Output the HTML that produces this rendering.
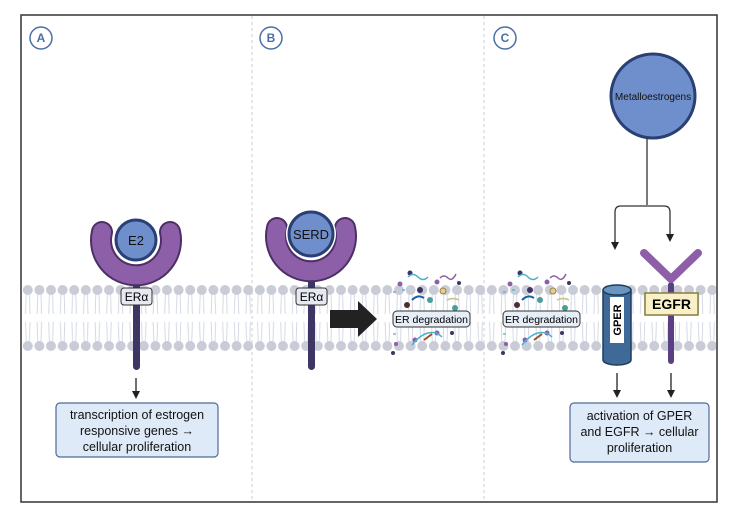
<!DOCTYPE html>
<html><head><meta charset="utf-8"><style>
html,body{margin:0;padding:0;background:#fff;}
svg{display:block;font-family:"Liberation Sans",sans-serif;}
</style></head><body>
<svg width="737" height="511" viewBox="0 0 737 511" xmlns="http://www.w3.org/2000/svg">
<defs>
<pattern id="mem" x="22" y="284" width="11.6" height="68" patternUnits="userSpaceOnUse">
<g stroke="#cfd5e2" stroke-width="0.9" fill="none">
<path d="M4.3 8 L3.5 30 M7.3 8 L8 30"/>
<path d="M3.5 38 L4.3 60 M8 38 L7.3 60"/>
</g>
<circle cx="5.8" cy="6" r="5" fill="#c9ccd6"/>
<circle cx="5.8" cy="62" r="5" fill="#c9ccd6"/>
</pattern>
<marker id="ah" markerWidth="8" markerHeight="8" refX="4" refY="4" orient="auto" markerUnits="userSpaceOnUse"><path d="M0 0 L8 4 L0 8 Z" fill="#222"/></marker>
</defs>
<rect x="21" y="15" width="696" height="487" fill="#fff" stroke="#333" stroke-width="1.5"/>
<rect x="22" y="284" width="694" height="68" fill="url(#mem)"/>
<line x1="252" y1="16" x2="252" y2="501" stroke="#ccc" stroke-dasharray="3,3"/>
<line x1="484" y1="16" x2="484" y2="501" stroke="#ccc" stroke-dasharray="3,3"/>
<g fill="#fff" stroke="#4a6ea8" stroke-width="1.5">
<circle cx="41" cy="38" r="11"/><circle cx="271" cy="38" r="11"/><circle cx="505" cy="38" r="11"/>
</g>
<g fill="#4a6ea8" font-size="12" font-weight="bold" text-anchor="middle">
<text x="41" y="42">A</text><text x="271" y="42">B</text><text x="505" y="42">C</text>
</g>
<!-- A receptor -->
<rect x="133" y="270" width="7" height="100" rx="3.5" fill="#3d3563"/>
<path d="M102 232 A35 35 0 1 0 170 232" stroke="#4d2f66" stroke-width="22" fill="none" stroke-linecap="round"/>
<path d="M102 232 A35 35 0 1 0 170 232" stroke="#8c5fa8" stroke-width="18" fill="none" stroke-linecap="round"/>
<circle cx="136" cy="240" r="23" fill="#fff"/>
<circle cx="136" cy="240" r="20" fill="#6f8fcc" stroke="#2a3f73" stroke-width="3"/>
<text x="136" y="245" font-size="13" text-anchor="middle" fill="#111">E2</text>
<rect x="121" y="288" width="31" height="17" rx="3" fill="#e6e8f2" stroke="#333"/>
<text x="136.5" y="301" font-size="12" text-anchor="middle">ERα</text>
<line x1="136" y1="378" x2="136" y2="395" stroke="#222" stroke-width="1.3" marker-end="url(#ah)"/>
<rect x="56" y="403" width="162" height="54" rx="4" fill="#deeaf8" stroke="#4f6a96" stroke-width="1.2"/>
<g font-size="12.5" text-anchor="middle" fill="#111">
<text x="137" y="419">transcription of estrogen</text>
<text x="137" y="435">responsive genes →</text>
<text x="137" y="451">cellular proliferation</text>
</g>
<!-- B receptor -->
<rect x="308" y="270" width="7" height="100" rx="3.5" fill="#3d3563"/>
<path d="M277 228 A35 35 0 1 0 345 228" stroke="#4d2f66" stroke-width="22" fill="none" stroke-linecap="round"/>
<path d="M277 228 A35 35 0 1 0 345 228" stroke="#8c5fa8" stroke-width="18" fill="none" stroke-linecap="round"/>
<circle cx="311" cy="234" r="25" fill="#fff"/>
<circle cx="311" cy="234" r="22" fill="#6f8fcc" stroke="#2a3f73" stroke-width="3"/>
<text x="311" y="239" font-size="13" text-anchor="middle" fill="#111">SERD</text>
<rect x="296" y="288" width="31" height="17" rx="3" fill="#e6e8f2" stroke="#333"/>
<text x="311.5" y="301" font-size="12" text-anchor="middle">ERα</text>
<path d="M330 310 L358 310 L358 301 L377 319 L358 337 L358 328 L330 328 Z" fill="#222"/>
<!-- degradation debris -->
<g>
<g id="deb">
<circle cx="410" cy="273" r="2.5" fill="#3d3563"/><circle cx="400" cy="284" r="2.5" fill="#8c5fa8"/>
<circle cx="420" cy="290" r="3" fill="#3d3563"/><circle cx="430" cy="300" r="3" fill="#4a9d9a"/>
<circle cx="443" cy="291" r="3" fill="#e0d090" stroke="#a08040"/><circle cx="437" cy="282" r="2.5" fill="#8c5fa8"/>
<circle cx="459" cy="283" r="2" fill="#3d3563"/><circle cx="455" cy="308" r="3" fill="#4a9d9a"/>
<circle cx="407" cy="305" r="3" fill="#4a2f2f"/><circle cx="415" cy="340" r="2.5" fill="#8c5fa8"/>
<circle cx="437" cy="333" r="2.5" fill="#8c5fa8"/><circle cx="452" cy="333" r="2" fill="#3d3563"/>
<circle cx="393" cy="353" r="2" fill="#3d3563"/><circle cx="396" cy="344" r="2" fill="#8c5fa8"/>
<path d="M408 277 q5 -5 10 0 t10 0" stroke="#4ab0d0" fill="none" stroke-width="1.5"/>
<path d="M440 278 q4 -4 8 0 t8 -4" stroke="#8c5fa8" fill="none" stroke-width="1.5"/>
<path d="M412 300 q6 -6 12 -2" stroke="#1a5fa0" fill="none" stroke-width="2"/>
<path d="M412 345 q8 -10 16 -12 t14 4" stroke="#4ab0d0" fill="none" stroke-width="1.5"/>
<path d="M424 340 l8 -6" stroke="#a05020" stroke-width="2"/>
<path d="M447 300 q6 -3 12 0" stroke="#c8c080" fill="none" stroke-width="1.5"/>
<path d="M393 292 l3 0 M393 315 l3 0 M393 334 l3 0 M402 290 l3 0" stroke="#4ab0d0" stroke-width="1.2"/>
</g>
<use href="#deb" x="110"/>
</g>
<rect x="393" y="311" width="77" height="16" rx="4" fill="#e6eef8" stroke="#333"/>
<text x="431.5" y="323" font-size="10.5" text-anchor="middle">ER degradation</text>
<rect x="503" y="311" width="77" height="16" rx="4" fill="#e6eef8" stroke="#333"/>
<text x="541.5" y="323" font-size="10.5" text-anchor="middle">ER degradation</text>
<!-- C -->
<circle cx="653" cy="96" r="42" fill="#6f8fcc" stroke="#2a3f73" stroke-width="3"/>
<text x="653" y="100" font-size="10" text-anchor="middle" fill="#111">Metalloestrogens</text>
<path d="M647 138 V205" stroke="#333" stroke-width="1.3" fill="none"/>
<path d="M615 245 V212 q0 -6 6 -6 H664 q6 0 6 6 V238" stroke="#333" stroke-width="1.3" fill="none" marker-end="url(#ah)"/>
<line x1="615" y1="240" x2="615" y2="246" stroke="#333" stroke-width="1.3" marker-end="url(#ah)"/>
<path d="M603 290 V360 a14 5 0 0 0 28 0 V290" fill="#3f6a98" stroke="#1e3a5c" stroke-width="1.5"/>
<ellipse cx="617" cy="290" rx="14" ry="5" fill="#6a95c0" stroke="#1e3a5c" stroke-width="1.5"/>
<rect x="610" y="297" width="14" height="46" fill="#fff"/>
<text x="617" y="320" font-size="11" font-weight="bold" text-anchor="middle" transform="rotate(-90 617 320)" dy="4">GPER</text>
<rect x="668" y="282" width="6" height="82" rx="3" fill="#5a3f85"/>
<path d="M644 253 L671 279 L698 253" stroke="#8c5fa8" stroke-width="8" stroke-linecap="round" stroke-linejoin="round" fill="none"/>
<rect x="645" y="293" width="53" height="22" fill="#f8f0c8" stroke="#8a7a3a" stroke-width="1.5"/>
<text x="671.5" y="309" font-size="14" font-weight="bold" text-anchor="middle">EGFR</text>
<line x1="617" y1="373" x2="617" y2="394" stroke="#222" stroke-width="1.3" marker-end="url(#ah)"/>
<line x1="671" y1="373" x2="671" y2="394" stroke="#222" stroke-width="1.3" marker-end="url(#ah)"/>
<rect x="570" y="403" width="139" height="59" rx="4" fill="#deeaf8" stroke="#4f6a96" stroke-width="1.2"/>
<g font-size="12.5" text-anchor="middle" fill="#111">
<text x="639.5" y="420">activation of GPER</text>
<text x="639.5" y="436">and EGFR → cellular</text>
<text x="639.5" y="452">proliferation</text>
</g>
</svg>
</body></html>
